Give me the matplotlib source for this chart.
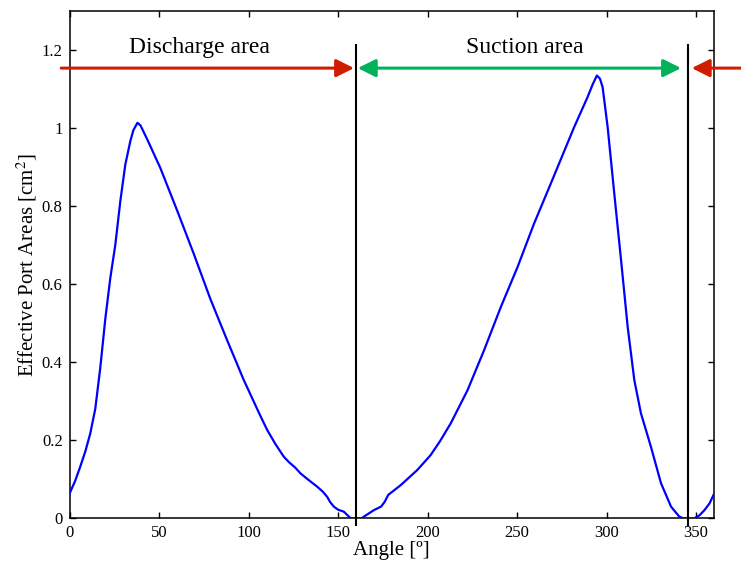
import matplotlib.pyplot as plt

plt.rcParams['font.family'] = ['Liberation Serif', 'DejaVu Serif']
plt.rcParams['mathtext.fontset'] = 'stix'

# crank angle [deg] and effective port area [cm^2]
angle = [0, 3.0, 5.9, 8.8, 11.5, 14.3, 17.1, 19.9, 22.7, 25.5, 28.3, 31.1, 33.9,
         35.6, 37.9, 39.6, 43.2, 50.6, 60.0, 69.3, 78.6, 88.0, 97.3, 106.6,
         110.4, 115.0, 119.6, 122.5, 126.0, 129.0, 133.0, 138.3, 141.5, 143.9,
         145.5, 147.6, 150.0, 153.2, 157.0, 163.0, 167.0, 170.0, 174.0, 176.0,
         178.0, 185.0, 194.3, 201.7, 207.0, 212.9, 222.3, 231.6, 240.9, 250.3,
         259.5, 268.9, 281.9, 289.4, 292.3, 294.6, 296.3, 297.8, 300.6, 304.3,
         308.1, 311.8, 315.5, 319.2, 324.8, 330.4, 336.0, 340.7, 343.0, 349.0,
         352.0, 354.7, 357.5, 360.0]
area = [0.064, 0.095, 0.132, 0.172, 0.217, 0.280, 0.385, 0.510, 0.615, 0.700,
        0.812, 0.906, 0.966, 0.994, 1.013, 1.006, 0.972, 0.898, 0.789, 0.678,
        0.562, 0.456, 0.354, 0.262, 0.226, 0.190, 0.158, 0.144, 0.130, 0.115,
        0.100, 0.081, 0.068, 0.055, 0.042, 0.030, 0.022, 0.017, 0.0, 0.0,
        0.012, 0.021, 0.030, 0.042, 0.060, 0.085, 0.124, 0.162, 0.198, 0.243,
        0.328, 0.431, 0.541, 0.644, 0.755, 0.858, 1.002, 1.079, 1.112, 1.134,
        1.126, 1.104, 1.002, 0.832, 0.661, 0.490, 0.354, 0.269, 0.183, 0.090,
        0.030, 0.004, 0.0, 0.0, 0.008, 0.021, 0.038, 0.062]

# port switching angles
switch_angles = [160, 345.5]

red = '#d11c00'
green = '#00b25c'

fig = plt.figure(figsize=(7.41, 5.64), dpi=100)
ax = fig.add_axes([0.094, 0.081, 0.8695, 0.9])

ax.plot(angle, area, color='#0000ff', lw=1.6, zorder=3)

for a in switch_angles:
    ax.plot([a, a], [-0.016, 1.212], color='black', lw=1.5, clip_on=False, zorder=4)

arrow_y = 1.153
head = dict(lw=2.2, mutation_scale=27, shrinkA=0, shrinkB=0)
ax.annotate('', xy=(158.9, arrow_y), xytext=(-4.7, arrow_y), annotation_clip=False,
            arrowprops={**head, 'arrowstyle': '-|>', 'color': red})
ax.annotate('', xy=(341.6, arrow_y), xytext=(161.0, arrow_y), annotation_clip=False,
            arrowprops={**head, 'arrowstyle': '<|-|>', 'color': green})
ax.annotate('', xy=(347.6, arrow_y), xytext=(380, arrow_y), annotation_clip=False,
            arrowprops={**head, 'arrowstyle': '-|>', 'color': red})

ax.text(72.3, 1.207, 'Discharge area', ha='center', va='center', fontsize=17)
ax.text(254.5, 1.207, 'Suction area', ha='center', va='center', fontsize=17)

ax.set_xlim(0, 360)
ax.set_ylim(0, 1.3)
ax.set_xticks([0, 50, 100, 150, 200, 250, 300, 350])
ax.set_yticks([0, 0.2, 0.4, 0.6, 0.8, 1.0, 1.2])
ax.set_yticklabels(['0', '0.2', '0.4', '0.6', '0.8', '1', '1.2'])
ax.tick_params(direction='in', top=True, right=True, length=4, width=1,
               labelsize=12, pad=5)
for s in ax.spines.values():
    s.set_linewidth(1.1)

ax.set_xlabel('Angle [º]', fontsize=15, labelpad=0)
ax.set_ylabel('Effective Port Areas [cm$^2$]', fontsize=15, labelpad=2)

fig.savefig('out.png', dpi=100)
